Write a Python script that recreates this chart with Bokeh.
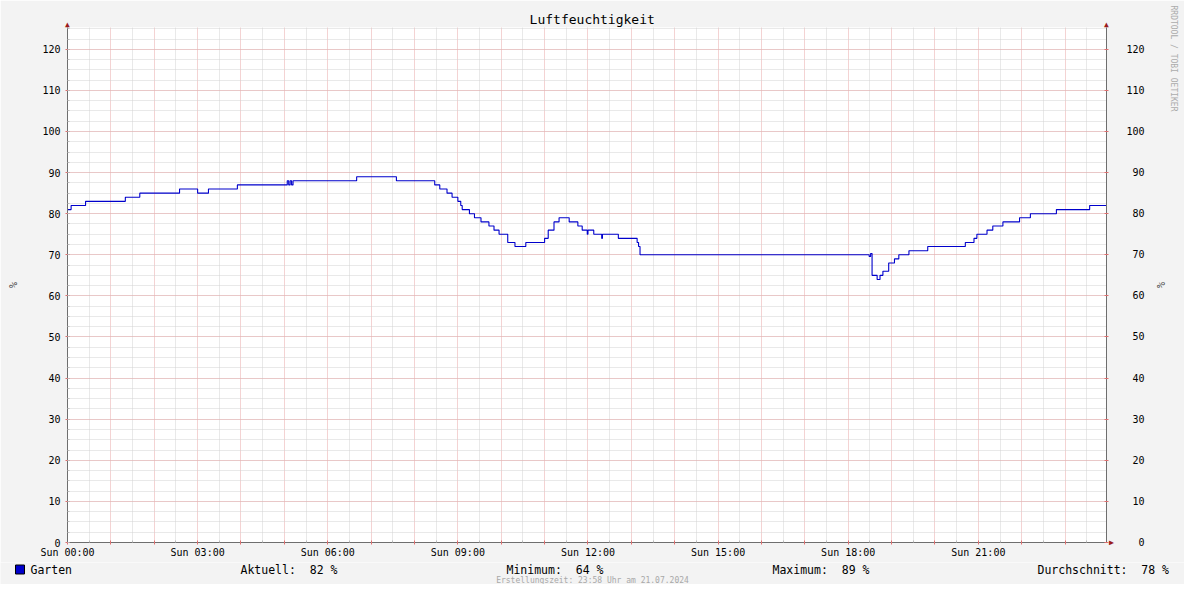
from bokeh.plotting import figure
from bokeh.models import Range1d, FixedTicker, LinearAxis, Title, Label
from bokeh.layouts import column
from bokeh.core.properties import value
from bokeh.embed import file_html
from bokeh.resources import INLINE

# ---- data ----
times = ["00:00", "00:05", "00:25", "01:20", "01:40", "02:35", "03:00", "03:15", "03:55",
         "05:04", "05:06", "05:08", "05:10", "05:12", "06:40", "07:35", "08:28", "08:35",
         "08:45", "08:52", "09:00", "09:04", "09:06", "09:16", "09:23", "09:32", "09:43",
         "09:50", "09:57", "10:09", "10:19", "10:34", "11:00", "11:05", "11:13", "11:20",
         "11:34", "11:46", "11:52", "11:59", "12:00", "12:08", "12:19", "12:20", "12:42",
         "13:08", "13:10", "13:12", "18:29", "18:31", "18:33", "18:40", "18:44", "18:48",
         "18:56", "19:04", "19:10", "19:24", "19:50", "20:42", "20:54", "20:58", "21:12",
         "21:20", "21:34", "21:57", "22:12", "22:48", "23:34", "23:58"]
values = [81, 82, 83, 84, 85, 86, 85, 86, 87,
          88, 87, 88, 87, 88, 89, 88, 87, 86,
          85, 84, 83, 82, 81, 80, 79, 78, 77,
          76, 75, 73, 72, 73, 74, 76, 78, 79,
          78, 77, 76, 75, 76, 75, 74, 75, 74,
          73, 72, 70, 69.6, 70.3, 65, 64, 65, 66,
          68, 69, 70, 71, 72, 73, 74, 75, 76,
          77, 78, 79, 80, 81, 82, 82]

series_name = "Garten"
title_text = "Luftfeuchtigkeit"
unit = "%"
stat_labels = ["Aktuell:", "Minimum:", "Maximum:", "Durchschnitt:"]
stat_values = [82, 64, 89, 78]
footer_text = "Erstellungszeit: 23:58 Uhr am 21.07.2024"
watermark = "RRDTOOL / TOBI OETIKER"
y_ticks = list(range(0, 130, 10))
x_hours = list(range(0, 24))

hours = [int(t[:2]) + int(t[3:]) / 60 for t in times]

FONT = "DejaVu Sans Mono"
MAJOR = "#E8A6A6"
MINOR = "#D2D2D2"
AXIS = "#6E6E6E"
ARROW = "#9B1B1B"
LINE = "#0000CC"
BG = "#F3F3F3"

W, H_MAIN, H_LEG = 1184, 562, 22
X_END, Y_END = 23.955, 125.3

p = figure(width=W, height=H_MAIN, output_backend="svg", toolbar_location=None,
           x_range=Range1d(0, X_END), y_range=Range1d(0, Y_END), title=None,
           min_border_left=67, min_border_right=77, min_border_top=27, min_border_bottom=20,
           background_fill_color="white", border_fill_color=BG,
           outline_line_color=None)
p.frame_align = False

p.step(hours, values, mode="after", line_color=LINE, line_width=1.1)

# ---- x axis ----
xa = p.xaxis[0]
xa.ticker = FixedTicker(ticks=x_hours, minor_ticks=[h + 0.5 for h in x_hours] + [0])
xa.major_label_overrides = {h: (f"Sun {h:02d}:00" if h % 3 == 0 else "") for h in x_hours}
xa.major_label_text_font = FONT
xa.major_label_text_font_size = "10px"
xa.major_label_text_color = "black"
xa.major_label_standoff = 2
xa.axis_line_color = AXIS
xa.major_tick_line_color = "#E07070"
xa.minor_tick_line_color = "#BBBBBB"
xa.major_tick_in = 2
xa.major_tick_out = 2
xa.minor_tick_in = 2
xa.minor_tick_out = 0

# ---- y axes ----
ya = p.yaxis[0]
ya.ticker = FixedTicker(ticks=y_ticks, minor_ticks=[v / 2 for v in range(0, 251, 5)])
ya.major_label_text_font = FONT
ya.major_label_text_font_size = "10px"
ya.major_label_text_color = "black"
ya.major_label_standoff = 5
ya.axis_line_color = AXIS
ya.major_tick_line_color = "#E07070"
ya.minor_tick_line_color = "#BBBBBB"
ya.major_tick_in = 2
ya.major_tick_out = 2
ya.minor_tick_in = 2
ya.minor_tick_out = 0
ya.axis_label = unit
ya.axis_label_text_font = FONT
ya.axis_label_text_font_size = "10px"
ya.axis_label_text_font_style = "normal"
ya.axis_label_standoff = 20

ry = LinearAxis(ticker=FixedTicker(ticks=y_ticks, minor_ticks=[]))
ry.major_label_overrides = {v: str(v).rjust(3, "\u00a0") for v in y_ticks}
ry.major_label_text_font = FONT
ry.major_label_text_font_size = "10px"
ry.major_label_text_color = "black"
ry.major_label_standoff = 18
ry.axis_line_color = AXIS
ry.major_tick_line_color = "#E07070"
ry.major_tick_in = 2
ry.major_tick_out = 2
ry.axis_label = unit
ry.axis_label_text_font = FONT
ry.axis_label_text_font_size = "10px"
ry.axis_label_text_font_style = "normal"
ry.axis_label_standoff = 7
p.add_layout(ry, "right")

p.add_layout(Title(text=watermark, align="left", text_font=FONT, text_font_size="8px",
                   text_font_style="normal", text_color="#ABABAB", standoff=0, offset=-22),
             "right")

# ---- grids ----
for g in (p.xgrid[0], p.ygrid[0]):
    g.grid_line_color = MAJOR
    g.grid_line_dash = "1 1"
    g.grid_line_width = 1
    g.minor_grid_line_color = MINOR
    g.minor_grid_line_dash = "1 1"
    g.minor_grid_line_width = 1

# ---- title and arrow heads, placed in the side panels ----
def panel_label(side, x, y, text, size, color, align="center"):
    p.add_layout(Label(x=x, y=y, x_units="data", y_units="data", text=text,
                       text_font=FONT, text_font_size=size, text_color=color,
                       text_align=align, text_baseline="middle"), side)

panel_label("above", X_END / 2 + 0.12, Y_END + 1.95, title_text, "13px", "black")
panel_label("above", 0, Y_END + 0.73, "\u25B2", "8px", ARROW)
panel_label("right", X_END, Y_END + 0.73, "\u25B2", "8px", ARROW)
panel_label("left", X_END + 0.115, 0, "\u25B6", "8px", ARROW)

# ---- legend / footer strip (pixel coordinates) ----
q = figure(width=W, height=H_LEG, output_backend="svg", toolbar_location=None,
           x_range=Range1d(0, W), y_range=Range1d(0, H_LEG),
           x_axis_type=None, y_axis_type=None,
           min_border=0, min_border_left=0, min_border_right=0, min_border_top=0, min_border_bottom=0,
           background_fill_color=BG, border_fill_color=BG, outline_line_color=None)
q.frame_align = False

q.quad(left=[15], right=[24], bottom=[10.5], top=[19.5], fill_color=LINE, line_color="black", line_width=1)
leg_texts = [series_name] + [f"{sl}\u00a0\u00a0{sv}\u00a0{unit}" for sl, sv in zip(stat_labels, stat_values)]
leg_x = [30, 240, 506, 772, 1037]
q.text(x=leg_x, y=[15] * 5, text=leg_texts, text_font=value(FONT), text_font_size="11.5px",
       text_color="black", text_align="left", text_baseline="middle")
q.text(x=[592], y=[4], text=[footer_text], text_font=value(FONT), text_font_size="8px",
       text_color="#A8A8A8", text_align="center", text_baseline="middle")

layout = column(p, q, spacing=0)
open("out.html", "w").write(file_html(layout, INLINE))
